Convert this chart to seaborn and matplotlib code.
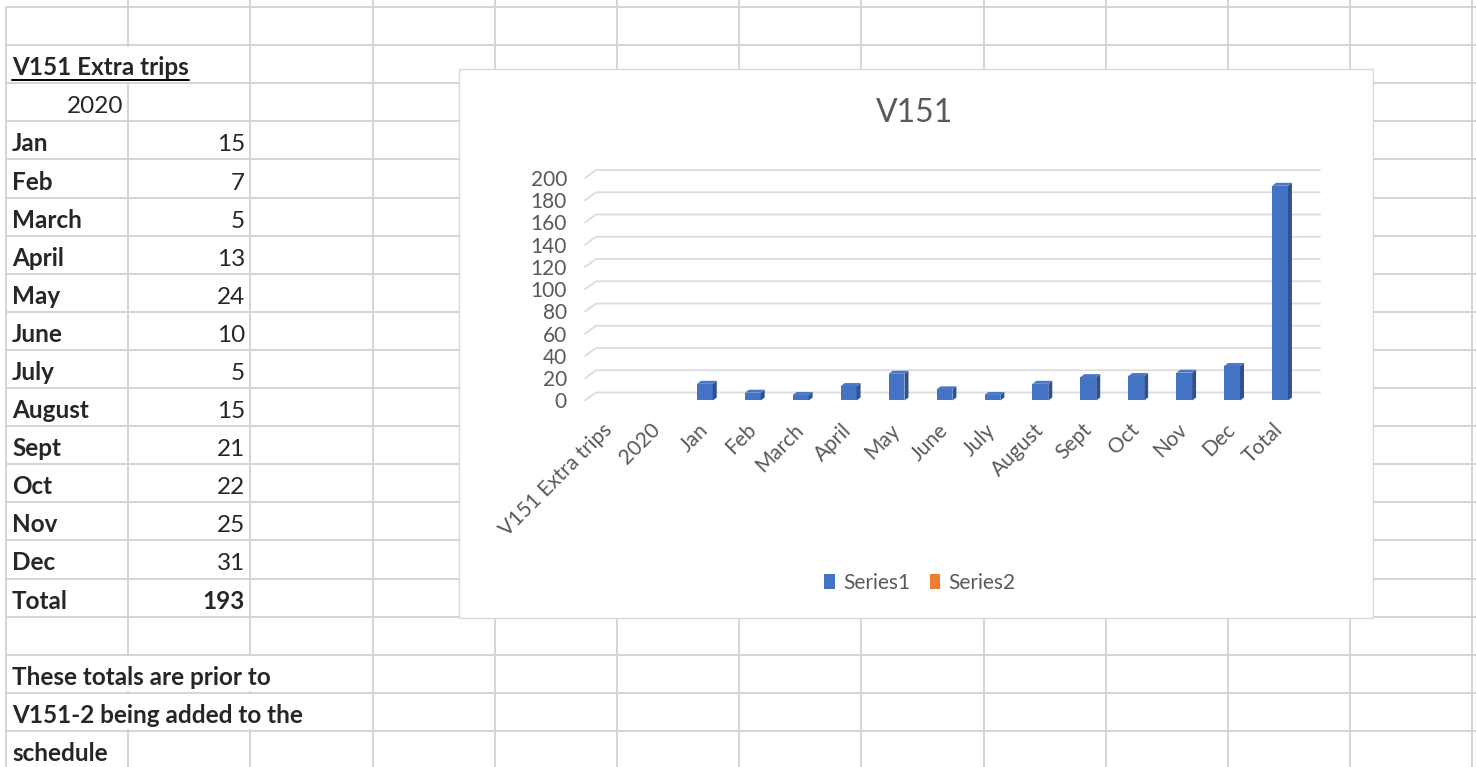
import numpy as np
import pandas as pd
import matplotlib
matplotlib.use("Agg")
import matplotlib.pyplot as plt
import matplotlib.transforms as mtrans
from matplotlib.patches import Polygon, Rectangle, Patch
from matplotlib.lines import Line2D
import seaborn as sns

# ---- values ----
sheet_title = "V151 Extra trips"
year_label = "2020"
months = ["Jan", "Feb", "March", "April", "May", "June", "July",
          "August", "Sept", "Oct", "Nov", "Dec"]
trips = [15, 7, 5, 13, 24, 10, 5, 15, 21, 22, 25, 31]
total_label = "Total"
total_trips = 193
note_lines = ["These totals are prior to", "V151-2 being added to the", "schedule"]

# the chart picked up the two header rows as (blank) categories
chart_cats = [sheet_title, year_label] + months + [total_label]
series1 = [np.nan, np.nan] + trips + [total_trips]
y_ticks = list(range(0, 201, 20))
legend_names = ["Series1", "Series2"]
chart_title = "V151"

# ---- look ----
W, H = 1476, 767
blue, orange = "#4472C4", "#ED7D31"
side_col, top_col = "#2F528F", "#4A78C9"
grey_txt = "#595959"
cell_line = "#d4d4d4"
wall_line = "#dcdcdc"
chart_fs = 15

sns.set_theme(style="white")
plt.rcParams["font.family"] = ["Lato", "DejaVu Sans"]

fig = plt.figure(figsize=(W / 100, H / 100), dpi=100)

# ---- spreadsheet grid (pixel space) ----
bg = fig.add_axes([0, 0, 1, 1])
bg.set_xlim(0, W)
bg.set_ylim(H, 0)
bg.axis("off")

col_x = [6 + 122.2 * k for k in range(13)]
row_y = [7 + 38.1 * k for k in range(21)]

for k, x in enumerate(col_x):
    bg.plot([x, x], [0 if k else row_y[0], H], color=cell_line, lw=1.4, zorder=1)
# text overflowing into neighbour cells hides the borders there
hidden = [(1, 2), (1, 18), (2, 18), (1, 19), (2, 19)]
for k, r in hidden:
    bg.add_patch(Rectangle((col_x[k] - 3, row_y[r - 1] + 1.5), 6, 38.1 - 3,
                           fc="white", ec="none", zorder=2))
for y in row_y:
    bg.plot([col_x[0], W], [y, y], color=cell_line, lw=1.4, zorder=3)

cell_fs = 17.5
base = lambda r: row_y[r] - 8  # baseline of text in row r (1-based)

t_title = bg.text(12, base(2), sheet_title, fontsize=cell_fs, fontweight="bold",
                  ha="left", va="baseline", zorder=4)
bg.text(123, base(3), year_label, fontsize=cell_fs, ha="right", va="baseline", zorder=4)
for i, (m, v) in enumerate(zip(months, trips)):
    r = 4 + i
    bg.text(12, base(r), m, fontsize=cell_fs, fontweight="bold",
            ha="left", va="baseline", zorder=4)
    bg.text(245, base(r), str(v), fontsize=cell_fs, ha="right", va="baseline", zorder=4)
r_tot = 4 + len(months)
bg.text(12, base(r_tot), total_label, fontsize=cell_fs, fontweight="bold",
        ha="left", va="baseline", zorder=4)
bg.text(245, base(r_tot), str(total_trips), fontsize=cell_fs, fontweight="bold",
        ha="right", va="baseline", zorder=4)
for i, line in enumerate(note_lines):
    bg.text(12, base(r_tot + 2 + i), line, fontsize=cell_fs, fontweight="bold",
            ha="left", va="baseline", zorder=4)

# underline the sheet title
rend = fig.canvas.get_renderer()
bb = t_title.get_window_extent(renderer=rend)
(ux0, _), (ux1, _) = bg.transData.inverted().transform([[bb.x0, 0], [bb.x1, 0]])
bg.plot([ux0, ux1], [base(2) + 5, base(2) + 5], color="black", lw=1.4, zorder=4)

# chart area box
bg.add_patch(Rectangle((459, 69), 914, 549, fc="white", ec="#d9d9d9", lw=1.0, zorder=5))

# ---- the chart ----
ax = fig.add_axes([585 / W, 1 - 400.5 / H, 719 / W, (400.5 - 178) / H])
ax.set_zorder(6)
ax.set_facecolor("none")

df = pd.DataFrame({"category": chart_cats, "trips": series1})
sns.barplot(data=df, x="category", y="trips", order=chart_cats, color=blue,
            saturation=1, width=0.33, ax=ax, zorder=3, errorbar=None, linewidth=0)

ax.set_xlim(-0.5, len(chart_cats) - 0.5)
ax.set_ylim(0, 200)
ax.set_yticks(y_ticks)
ax.set_xlabel("")
ax.set_ylabel("")
for s in ax.spines.values():
    s.set_visible(False)
ax.tick_params(length=0, labelsize=chart_fs, labelcolor=grey_txt)
ax.tick_params(axis="y", pad=13)
ax.tick_params(axis="x", pad=19)
plt.setp(ax.get_xticklabels(), rotation=45, ha="right", va="center",
         rotation_mode="anchor")

# 3-D look: back-wall gridlines with a slanted floor edge
ident = mtrans.IdentityTransform()
dx, dy = 11, 8
for v in y_ticks:
    fx, fy = ax.get_yaxis_transform().transform((0, v))
    ex = ax.get_yaxis_transform().transform((1, v))[0] + 16
    ax.add_artist(Line2D([fx, fx + dx, ex], [fy, fy + dy, fy + dy], transform=ident,
                         color=wall_line, lw=1.3, zorder=1, clip_on=False))

# side and top faces of each column
sx, sy = 4, 3
for p in ax.patches:
    h = p.get_height()
    if not np.isfinite(h) or h <= 0:
        continue
    x0 = p.get_x()
    (px0, py0), (px1, py1) = ax.transData.transform([[x0, 0], [x0 + p.get_width(), h]])
    side = Polygon([[px1, py0], [px1, py1], [px1 + sx, py1 + sy], [px1 + sx, py0 + sy]],
                   closed=True, transform=ident, fc=side_col, ec="none",
                   zorder=4, clip_on=False)
    top = Polygon([[px0, py1], [px1, py1], [px1 + sx, py1 + sy], [px0 + sx, py1 + sy]],
                  closed=True, transform=ident, fc=top_col, ec="none",
                  zorder=4, clip_on=False)
    ax.add_artist(side)
    ax.add_artist(top)

fig.text(915 / W, 1 - 113 / H, chart_title, fontsize=23, color=grey_txt,
         ha="center", va="center", zorder=7)

handles = [Patch(facecolor=blue, linewidth=0), Patch(facecolor=orange, linewidth=0)]
leg = fig.legend(handles, legend_names, loc="center", bbox_to_anchor=(920 / W, 1 - 583 / H),
                 ncol=2, frameon=False, fontsize=chart_fs, handlelength=0.5, handleheight=0.75,
                 handletextpad=0.4, columnspacing=0.95, labelcolor=grey_txt)
leg.set_zorder(7)

fig.savefig("out.png", dpi=100)
